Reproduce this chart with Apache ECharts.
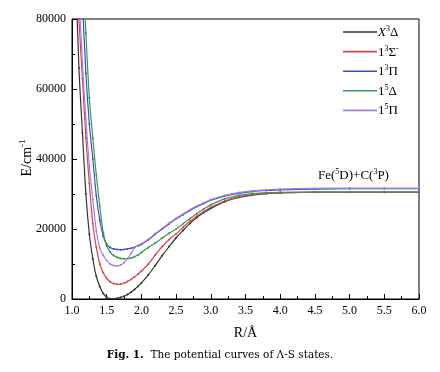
<!DOCTYPE html>
<html><head><meta charset="utf-8">
<script src="https://cdn.jsdelivr.net/npm/echarts@6/dist/echarts.min.js"></script>
<style>html,body{margin:0;padding:0;background:#fff}#c{width:440px;height:372px}</style>
</head><body><div id="c"></div>
<script>
var R = [1.05,1.10,1.15,1.20,1.25,1.30,1.35,1.40,1.45,1.50,1.55,1.60,1.65,1.70,1.75,1.80,1.85,1.90,1.95,2.00,
         2.1,2.2,2.3,2.4,2.5,2.6,2.7,2.8,2.9,3.0,3.2,3.4,3.6,3.8,4.0,4.5,5.0,5.5,6.0];
var X3D = [95000,66000,47500,30000,18500,11500,6500,3600,1600,500,50,100,200,450,800,1300,1950,2700,3600,4600,
           6900,9600,12400,15000,17500,19600,21600,23300,24700,25900,27800,29000,29700,30100,30300,30500,30500,30500,30500];
var S3 = [105000,80000,63000,46000,33000,21500,14800,10000,7500,5900,4900,4400,4200,4250,4500,5000,5600,6300,7100,8000,
          10000,12600,15000,17000,18600,20500,22200,23700,25000,26200,28000,29200,29800,30200,30400,30500,30500,30500,30500];
var P3 = [140000,104000,85000,64500,50000,40000,29500,22500,18000,15600,14700,14300,14150,14100,14150,14300,14500,14800,15200,15600,
          16900,18500,20000,21500,22900,24100,25300,26400,27300,28200,29400,30200,30700,31000,31200,31400,31500,31500,31500];
var D5 = [160000,125000,98000,76000,57500,46000,35500,26500,19000,15200,13400,12400,11900,11600,11500,11500,11700,12100,12600,13300,
          14700,16000,17400,18800,20000,21500,23000,24400,25700,26900,28600,29600,30100,30400,30500,30600,30600,30600,30600];
var P5 = [115000,88000,67500,51500,38000,28500,19500,14600,12500,11000,10000,9550,9450,9700,10400,11500,13000,14600,15300,15800,
          17100,18700,20200,21700,23100,24300,25500,26600,27500,28400,29600,30400,30900,31200,31400,31600,31700,31700,31700];
var names = ['X3D','S3','P3','D5','P5'];
var labels = ['{i|X}{s|3}{n|Δ}','{n|1}{s|3}{n|Σ}{s|-}','{n|1}{s|3}{n|Π}','{n|1}{s|5}{n|Δ}','{n|1}{s|5}{n|Π}'];
var colors = ['#333333','#d9434d','#3a4cc4','#3c9550','#a67ce4'];
var series_vals = [X3D,S3,P3,D5,P5];
var xTicks = ['1.0','1.5','2.0','2.5','3.0','3.5','4.0','4.5','5.0','5.5','6.0'];
var yTicks = ['0','20000','40000','60000','80000'];
var serif = 'Liberation Serif';
var rich = {
  i:{fontFamily:serif,fontSize:13,fontStyle:'italic',color:'#000',verticalAlign:'bottom',lineHeight:14},
  n:{fontFamily:serif,fontSize:13,color:'#000',verticalAlign:'bottom',lineHeight:14},
  s:{fontFamily:serif,fontSize:8,color:'#000',verticalAlign:'top',lineHeight:14}
};
var series = series_vals.map(function(v,k){
  return {name:names[k],type:'line',smooth:0.3,data:R.map(function(r,j){return [r,v[j]];}),
    symbol:'circle',symbolSize:2,showSymbol:true,itemStyle:{color:colors[k]},
    lineStyle:{color:colors[k],width:1.2},z:2+k};
});
var chart = echarts.init(document.getElementById('c'),null,{renderer:'canvas'});
chart.setOption({
  animation:false,
  grid:{left:72,right:21,top:19,bottom:73,show:true,borderColor:'#000',borderWidth:1,backgroundColor:'transparent'},
  legend:{orient:'vertical',left:338,top:20,itemWidth:34,itemHeight:1.6,itemGap:5.6,icon:'rect',
    formatter:function(n){return labels[names.indexOf(n)];},
    textStyle:{rich:rich,padding:[0,0,0,-4]},data:names},
  xAxis:{type:'value',min:1,max:6,interval:0.5,
    name:'R/Å',nameLocation:'middle',nameGap:27,nameTextStyle:{fontFamily:serif,fontSize:14,color:'#000'},
    axisLine:{lineStyle:{color:'#000',width:1}},
    axisTick:{inside:true,length:5,lineStyle:{color:'#000'}},
    minorTick:{show:true,splitNumber:2,length:3,lineStyle:{color:'#000'}},
    splitLine:{show:false},
    axisLabel:{margin:6,fontFamily:serif,fontSize:12,color:'#000',
      formatter:function(v){var i=Math.round((v-1)/0.5);return xTicks[i]||'';}}},
  yAxis:{type:'value',min:0,max:80000,interval:20000,
    axisLine:{show:true,lineStyle:{color:'#000',width:1}},
    axisTick:{show:true,inside:true,length:5,lineStyle:{color:'#000'}},
    minorTick:{show:true,splitNumber:2,length:3,lineStyle:{color:'#000'}},
    splitLine:{show:false},
    axisLabel:{margin:6,fontFamily:serif,fontSize:12,color:'#000',
      formatter:function(v){var i=Math.round(v/20000);return yTicks[i]||'';}}},
  graphic:[
    {type:'text',x:26,y:158,rotation:Math.PI/2,style:{text:'{a|E/cm}{b|-1}',align:'center',verticalAlign:'middle',
      rich:{a:{fontFamily:serif,fontSize:14,color:'#000',verticalAlign:'bottom',lineHeight:16},
            b:{fontFamily:serif,fontSize:9,color:'#000',verticalAlign:'top',lineHeight:16}}}},
    {type:'text',left:318,top:168,style:{text:'{n|Fe(}{s|5}{n|D)+C(}{s|3}{n|P)}',
      rich:{n:{fontFamily:serif,fontSize:13,color:'#000',verticalAlign:'bottom',lineHeight:14},
            s:{fontFamily:serif,fontSize:8,color:'#000',verticalAlign:'top',lineHeight:14}}}},
    {type:'text',left:'center',top:350,style:{text:'{b|Fig. 1.}{n|  The potential curves of Λ-S states.}',
      rich:{b:{fontFamily:'DejaVu Serif',fontSize:10.5,fontWeight:'bold',color:'#222'},
            n:{fontFamily:'DejaVu Serif',fontSize:10.5,color:'#222'}}}}
  ],
  series:series
});
</script></body></html>
